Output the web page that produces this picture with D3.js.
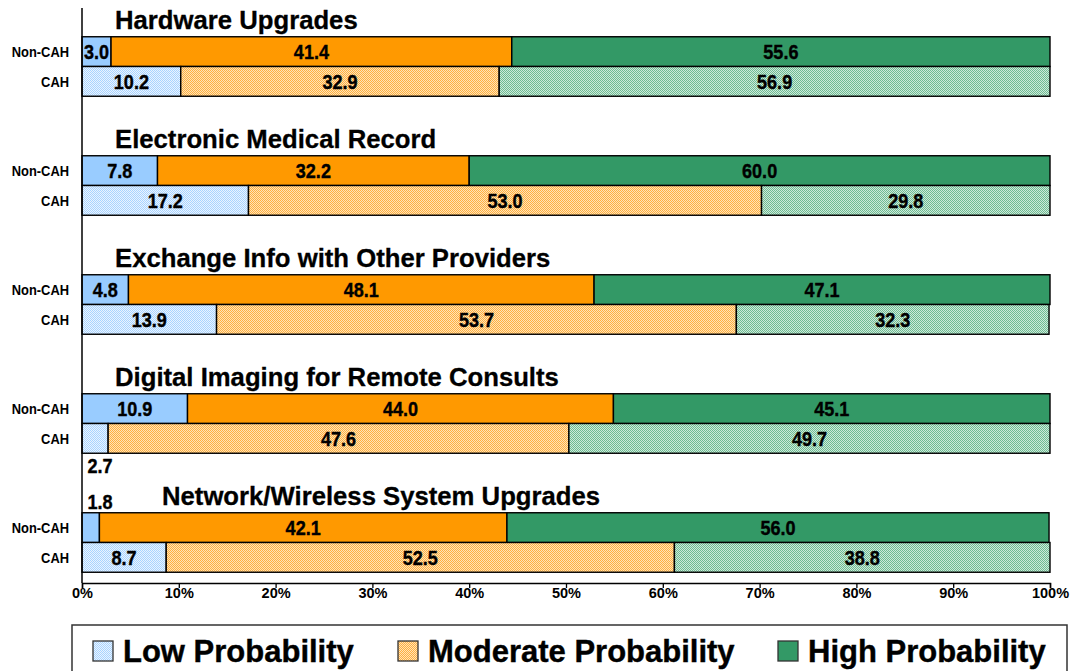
<!DOCTYPE html>
<html>
<head>
<meta charset="utf-8">
<script src="https://cdn.jsdelivr.net/npm/d3@7"></script>
<style>
  body { margin: 0; background: #fff; }
  text { font-family: Arial, "Liberation Sans", sans-serif; font-weight: bold; fill: #000; }
</style>
</head>
<body>
<div id="vis"></div>
<script>
const FRAME_WIDTH = 1071;
const FRAME_HEIGHT = 671;

// data
const groups = ["Hardware Upgrades", "Electronic Medical Record", "Exchange Info with Other Providers",
  "Digital Imaging for Remote Consults", "Network/Wireless System Upgrades"];
const hospitalTypes = ["Non-CAH", "CAH"];
const levels = ["Low Probability", "Moderate Probability", "High Probability"];
// [Non-CAH, CAH] per group
const lowValues = [[3.0, 10.2], [7.8, 17.2], [4.8, 13.9], [10.9, 2.7], [1.8, 8.7]];
const moderateValues = [[41.4, 32.9], [32.2, 53.0], [48.1, 53.7], [44.0, 47.6], [42.1, 52.5]];
const highValues = [[55.6, 56.9], [60.0, 29.8], [47.1, 32.3], [45.1, 49.7], [56.0, 38.8]];
const xTicks = [0, 10, 20, 30, 40, 50, 60, 70, 80, 90, 100];

const solidColors = ["#99ccff", "#ff9900", "#339966"];
const patternColors = [["#eaf4ff", "#a9d4ff"], ["#ffe3b8", "#ffb040"], ["#cdeadb", "#6fbb92"]];

const svg = d3.select("#vis").append("svg")
  .attr("width", FRAME_WIDTH)
  .attr("height", FRAME_HEIGHT);

// checker patterns for CAH bars
const defs = svg.append("defs");
patternColors.forEach(function (c, i) {
  const p = defs.append("pattern")
    .attr("id", "pat" + i)
    .attr("width", 2).attr("height", 2)
    .attr("patternUnits", "userSpaceOnUse");
  p.append("rect").attr("width", 2).attr("height", 2).attr("fill", c[0]);
  p.append("rect").attr("width", 1).attr("height", 1).attr("fill", c[1]);
  p.append("rect").attr("x", 1).attr("y", 1).attr("width", 1).attr("height", 1).attr("fill", c[1]);
});

const x = d3.scaleLinear().domain([0, 100]).range([82, 1050]);
const yGroup = d3.scaleBand().domain(groups).range([7, 602]);
const yRow = d3.scaleBand().domain(["title"].concat(hospitalTypes, ["gap"])).range([0, yGroup.bandwidth()]);
const plotBottom = 583;

// flatten into segments
const segments = [];
groups.forEach(function (g, gi) {
  hospitalTypes.forEach(function (h, hi) {
    const vals = [lowValues[gi][hi], moderateValues[gi][hi], highValues[gi][hi]];
    let start = 0;
    vals.forEach(function (v, li) {
      segments.push({group: g, gi: gi, type: h, hi: hi, level: li, start: start, value: v});
      start += v;
    });
  });
});

function scaledText(sel, sx) {
  return sel.attr("transform", function () {
    const t = d3.select(this);
    return "translate(" + t.attr("data-x") + "," + t.attr("data-y") + ") scale(" + sx + ",1)";
  });
}

const bars = svg.append("g");
bars.selectAll("rect")
  .data(segments)
  .enter()
  .append("rect")
  .attr("x", d => x(d.start))
  .attr("y", d => yGroup(d.group) + yRow(d.type))
  .attr("width", d => x(d.start + d.value) - x(d.start))
  .attr("height", yRow.bandwidth())
  .attr("fill", d => d.hi === 0 ? solidColors[d.level] : "url(#pat" + d.level + ")")
  .attr("stroke", "#000")
  .attr("stroke-width", 1.4);

// value labels
bars.selectAll("text")
  .data(segments)
  .enter()
  .append("text")
  .attr("text-anchor", "middle")
  .attr("font-size", "21px")
  .attr("stroke", "#000").attr("stroke-width", 0.4)
  .attr("data-x", function (d) {
    if (d.value < 2.9) return x(0) + 18;
    return (x(d.start) + x(d.start + d.value)) / 2;
  })
  .attr("data-y", function (d) {
    const top = yGroup(d.group) + yRow(d.type);
    if (d.value < 2.9) {
      return d.hi === 0 ? top - 4 : top + yRow.bandwidth() + 20;
    }
    return top + yRow.bandwidth() / 2 + 7.5;
  })
  .call(scaledText, 0.86)
  .text(d => d.value.toFixed(1));

// group titles
svg.append("g").selectAll("text")
  .data(groups)
  .enter()
  .append("text")
  .attr("x", (d, i) => lowValues[i][0] < 2.9 ? 162 : 115)
  .attr("y", d => yGroup(d) + 22)
  .attr("font-size", "25.7px")
  .attr("stroke", "#000").attr("stroke-width", 0.3)
  .text(d => d);

// row labels
groups.forEach(function (g) {
  svg.append("g")
    .selectAll("text")
    .data(hospitalTypes)
    .enter()
    .append("text")
    .attr("text-anchor", "end")
    .attr("font-size", "15px")
    .attr("data-x", 69)
    .attr("data-y", d => yGroup(g) + yRow(d) + yRow.bandwidth() / 2 + 5.5)
    .call(scaledText, 0.86)
    .text(d => d);
});

// vertical axis line
svg.append("line")
  .attr("x1", x(0)).attr("x2", x(0))
  .attr("y1", 8).attr("y2", plotBottom)
  .attr("stroke", "#000").attr("stroke-width", 1.5);

// x axis
const xAxis = svg.append("g")
  .attr("transform", "translate(0," + plotBottom + ")")
  .call(d3.axisBottom(x).tickValues(xTicks).tickSize(5).tickFormat(d => d + "%"));
xAxis.select(".domain").attr("stroke", "#000").attr("stroke-width", 1.5);
xAxis.selectAll(".tick line").attr("stroke", "#000").attr("stroke-width", 1.3);
xAxis.selectAll(".tick text")
  .attr("font-family", "Arial, 'Liberation Sans', sans-serif")
  .attr("font-weight", "bold")
  .attr("font-size", "14.5px")
  .attr("fill", "#000")
  .attr("dy", "0")
  .attr("y", 14.5);

// legend
const legend = svg.append("g");
legend.append("rect")
  .attr("x", 72).attr("y", 625)
  .attr("width", 995).attr("height", 60)
  .attr("fill", "#fff")
  .attr("stroke", "#333").attr("stroke-width", 1.5);
const legendX = [93, 398, 778];
const item = legend.selectAll(".item")
  .data(levels)
  .enter()
  .append("g")
  .attr("class", "item")
  .attr("transform", (d, i) => "translate(" + legendX[i] + ",641)");
item.append("rect")
  .attr("width", 20).attr("height", 20)
  .attr("fill", (d, i) => "url(#pat" + i + ")")
  .attr("stroke", "#333").attr("stroke-width", 1.3);
item.filter((d, i) => i === 2).select("rect").attr("fill", solidColors[2]);
item.append("text")
  .attr("x", 30).attr("y", 21)
  .attr("font-size", "31px")
  .attr("stroke", "#000").attr("stroke-width", 0.4)
  .text(d => d);
</script>
</body>
</html>
